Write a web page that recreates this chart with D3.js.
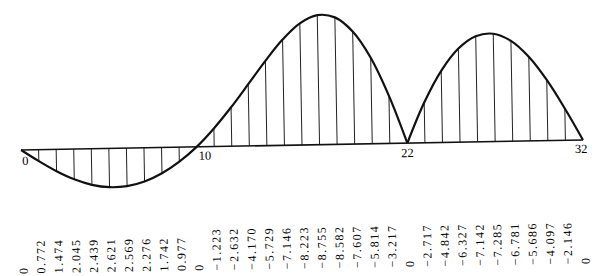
<!DOCTYPE html>
<html>
<head>
<meta charset="utf-8">
<script src="https://cdn.jsdelivr.net/npm/d3@7"></script>
<style>
  body { margin: 0; background: #fff; }
  svg { display: block; }
  .lbl { font-family: "Liberation Serif", "DejaVu Serif", serif; fill: #000; }
</style>
</head>
<body>
<div id="chart"></div>
<script>
var svgWidth = 605;
var svgHeight = 276;

// ordinates at sections 0..32
var sections = d3.range(0, 33);
var values = [0, 0.772, 1.474, 2.045, 2.439, 2.621, 2.569, 2.276, 1.742, 0.977,
  0, -1.223, -2.632, -4.170, -5.729, -7.146, -8.223, -8.755, -8.582, -7.607,
  -5.814, -3.217, 0, -2.717, -4.842, -6.327, -7.142, -7.285, -6.781, -5.686,
  -4.097, -2.146, 0];
// section numbers written on the base line
var marked = [0, 10, 22, 32];
// the curve is drawn in two pieces, broken at the support
var pieces = [[0, 22], [22, 32]];

var baseY = 145;
var k = 14.8;

var svg = d3.select("#chart")
  .append("svg")
  .attr("width", svgWidth)
  .attr("height", svgHeight);

// the scan is a little tilted
var g = svg.append("g")
  .attr("transform", "rotate(-1.02, 301, 145)");

var x = d3.scaleLinear().domain([0, 32]).range([21, 583]);
var y = d3.scaleLinear().domain([0, 1]).range([baseY, baseY + k]);

// vertical hatching
g.selectAll("line.ord")
  .data(sections.filter(i => values[i] !== 0))
  .enter()
  .append("line")
  .attr("class", "ord")
  .attr("x1", i => x(i))
  .attr("x2", i => x(i))
  .attr("y1", y(0))
  .attr("y2", i => y(values[i]))
  .attr("stroke", "#222")
  .attr("stroke-width", 1);

// base line
g.append("line")
  .attr("x1", x(0))
  .attr("x2", x(32))
  .attr("y1", y(0))
  .attr("y2", y(0))
  .attr("stroke", "#111")
  .attr("stroke-width", 1.6);

var line = d3.line()
  .x(i => x(i))
  .y(i => y(values[i]))
  .curve(d3.curveCatmullRom);

pieces.forEach(function(p) {
  g.append("path")
    .attr("d", line(d3.range(p[0], p[1] + 1)))
    .attr("fill", "none")
    .attr("stroke", "#111")
    .attr("stroke-width", 2.2);
});

// section numbers
var offs = {0: [1, "start", 15], 10: [2, "start", 13], 22: [0, "middle", 14], 32: [-2, "middle", 13]};
g.selectAll("text.sec")
  .data(marked)
  .enter()
  .append("text")
  .attr("class", "lbl sec")
  .attr("x", i => x(i) + offs[i][0])
  .attr("y", i => y(0) + offs[i][2])
  .attr("text-anchor", i => offs[i][1])
  .attr("font-size", "12.5px")
  .text(i => i);

// values written under each section
var fmt = d3.format(".3f");
g.selectAll("text.val")
  .data(sections)
  .enter()
  .append("text")
  .attr("class", "lbl val")
  .attr("transform", i => `translate(${x(i) + 4.5}, 269) rotate(-90)`)
  .attr("text-anchor", "start")
  .attr("font-size", "12px")
  .attr("letter-spacing", "1.5px")
  .text(i => values[i] === 0 ? "0" : fmt(values[i]));
</script>
</body>
</html>
